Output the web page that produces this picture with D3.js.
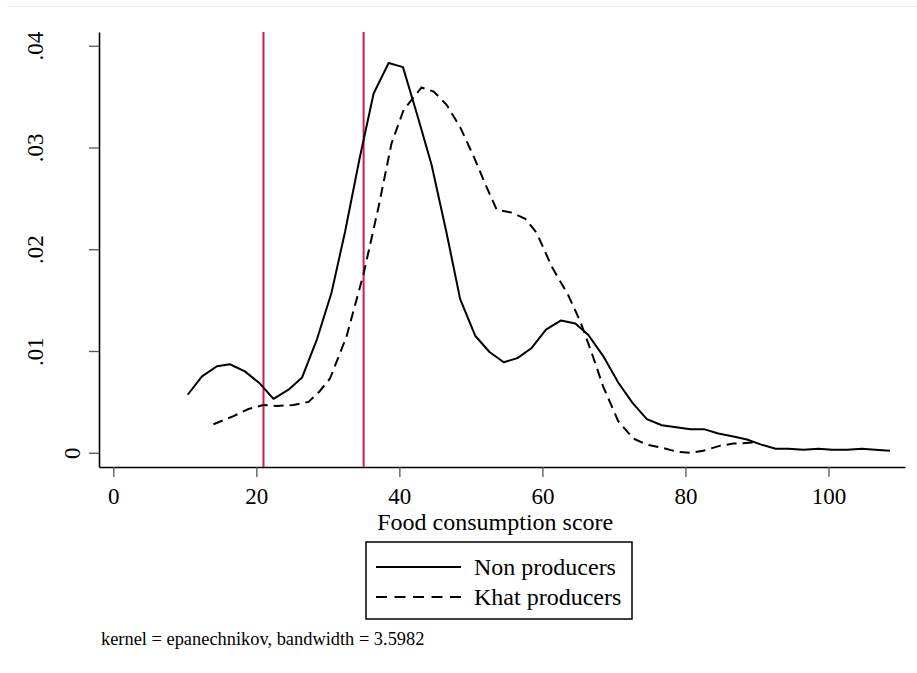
<!DOCTYPE html>
<html>
<head>
<meta charset="utf-8">
<script src="https://cdnjs.cloudflare.com/ajax/libs/d3/7.8.5/d3.min.js"></script>
<style>
  body { margin: 0; background: #fff; }
  svg, svg text { font-family: "Liberation Serif", "Times New Roman", serif; }
</style>
</head>
<body>
<div id="chart"></div>
<script>
    // kernel density of food consumption score
    var nonX = [10.4, 12.4, 14.5, 16.3, 18.4, 20.5, 22.4, 24.5, 26.4, 28.5, 30.5, 32.4, 34.4, 36.4,
        38.5, 40.5, 42.5, 44.5, 46.6, 48.5, 50.6, 52.6, 54.6, 56.5, 58.5, 60.5, 62.6, 64.6, 66.4,
        68.5, 70.6, 72.6, 74.6, 76.7, 78.7, 80.7, 82.7, 84.6, 86.7, 88.6, 90.6, 92.6, 94.4, 96.5,
        98.6, 100.5, 102.6, 104.7, 106.5, 108.6];
    var nonY = [.0057, .0075, .0085, .0087, .0080, .0068, .0053, .0062, .0074, .0112, .0157, .0217,
        .0288, .0353, .0383, .0379, .0332, .0283, .0216, .0151, .0115, .0099, .0089, .0093, .0103,
        .0121, .0130, .0127, .0116, .0095, .0069, .0049, .0033, .0027, .0025, .0023, .0023, .0019,
        .0016, .0013, .0008, .0004, .0004, .0003, .0004, .0003, .0003, .0004, .0003, .0002];

    var khatX = [14.0, 16.8, 18.9, 21.0, 22.9, 25.2, 27.3, 28.8, 30.3, 32.6, 35.0, 37.1, 38.9, 40.6,
        43.1, 44.8, 46.6, 48.5, 50.4, 52.2, 53.6, 55.7, 57.6, 59.2, 61.3, 63.6, 65.3, 66.9, 68.5,
        70.6, 72.7, 74.6, 76.7, 78.8, 80.7, 82.5, 84.9, 86.7, 89.5];
    var khatY = [.0028, .0036, .0043, .0047, .0046, .0047, .0050, .0060, .0073, .0114, .0176, .0242,
        .0304, .0337, .0359, .0355, .0342, .0320, .0291, .0261, .0239, .0236, .0230, .0216, .0183,
        .0155, .0129, .0098, .0065, .0031, .0014, .0008, .0005, .0001, .0000, .0002, .0007, .0009,
        .0010];

    var cutoffs = [21, 35];
    var xTicks = [0, 20, 40, 60, 80, 100];
    var yTicks = [0, .01, .02, .03, .04];
    var seriesNames = ["Non producers", "Khat producers"];

    var W = 917, H = 673;
    var fontSerif = "Liberation Serif, Times New Roman, serif";
    var margin = {
            top: 32,
            right: 12,
            bottom: 206,
            left: 99
        },
        width = W - margin.left - margin.right,
        height = H - margin.top - margin.bottom;

    var svg = d3.select("#chart").append("svg")
        .attr("width", W)
        .attr("height", H);

    // faint outer frame line at the top
    svg.append("line")
        .attr("x1", 7).attr("x2", W)
        .attr("y1", 6.5).attr("y2", 6.5)
        .attr("stroke", "#ebebeb")
        .attr("stroke-width", 1);

    var g = svg.append("g")
        .attr("transform", "translate(" + margin.left + "," + margin.top + ")");

    var x = d3.scaleLinear().domain([-2.0, 110.7]).range([0, width]);
    var y = d3.scaleLinear().domain([-0.0014, 0.04135]).range([height, 0]);

    // y axis
    var yAxis = g.append("g")
        .call(d3.axisLeft(y)
            .tickValues(yTicks)
            .tickSize(10)
            .tickSizeOuter(0)
            .tickFormat(function(d) {
                return d == 0 ? "0" : d3.format(".2f")(d).replace(/^0/, "");
            }))
        .attr("font-family", fontSerif);
    yAxis.selectAll("text")
        .attr("transform", "rotate(-90)")
        .attr("x", 0)
        .attr("y", function(d) { return d == 0 ? -19 : -56; })
        .attr("dy", 0)
        .style("text-anchor", "middle")
        .style("font-size", "23px")
        .attr("fill", "#000");

    // x axis
    var xAxis = g.append("g")
        .attr("transform", "translate(0," + height + ")")
        .call(d3.axisBottom(x)
            .tickValues(xTicks)
            .tickSize(10)
            .tickSizeOuter(0)
            .tickPadding(11))
        .attr("font-family", fontSerif);
    xAxis.selectAll("text")
        .style("font-size", "23px")
        .attr("fill", "#000");

    g.selectAll(".tick line")
        .attr("stroke", "#555")
        .attr("stroke-width", 1.3);
    g.selectAll(".domain")
        .attr("stroke", "#000")
        .attr("stroke-width", 1.6);

    g.append("text")
        .attr("x", x(53.4))
        .attr("y", 498)
        .style("text-anchor", "middle")
        .style("font-size", "24px")
        .text("Food consumption score");

    // reference lines
    g.selectAll(".cut")
        .data(cutoffs)
        .enter().append("line")
        .attr("class", "cut")
        .attr("x1", function(d) { return x(d); })
        .attr("x2", function(d) { return x(d); })
        .attr("y1", 0)
        .attr("y2", height)
        .attr("stroke", "#d41a4a")
        .attr("stroke-width", 2);

    var line = d3.line()
        .x(function(d) { return x(d[0]); })
        .y(function(d) { return y(d[1]); });

    g.append("path")
        .datum(d3.zip(nonX, nonY))
        .attr("d", line)
        .attr("fill", "none")
        .attr("stroke", "#000")
        .attr("stroke-width", 2)
        .attr("stroke-linejoin", "round");

    g.append("path")
        .datum(d3.zip(khatX, khatY))
        .attr("d", line)
        .attr("fill", "none")
        .attr("stroke", "#000")
        .attr("stroke-width", 2)
        .attr("stroke-dasharray", "10,6");

    // legend
    var legend = svg.append("g")
        .attr("transform", "translate(366,542)");
    legend.append("rect")
        .attr("width", 266)
        .attr("height", 77)
        .attr("fill", "#fff")
        .attr("stroke", "#000")
        .attr("stroke-width", 1.5);

    var items = legend.selectAll(".item")
        .data(seriesNames)
        .enter().append("g")
        .attr("transform", function(d, i) { return "translate(0," + (25 + i * 30) + ")"; });
    items.append("line")
        .attr("x1", 10).attr("x2", 95)
        .attr("stroke", "#000")
        .attr("stroke-width", 2)
        .attr("stroke-dasharray", function(d, i) { return i == 0 ? null : "11,7.5"; });
    items.append("text")
        .attr("x", 108)
        .attr("dy", "0.33em")
        .style("font-size", "24px")
        .text(function(d) { return d; });

    svg.append("text")
        .attr("x", 101)
        .attr("y", 645)
        .style("font-size", "18.4px")
        .text("kernel = epanechnikov, bandwidth = 3.5982");
</script>
</body>
</html>
